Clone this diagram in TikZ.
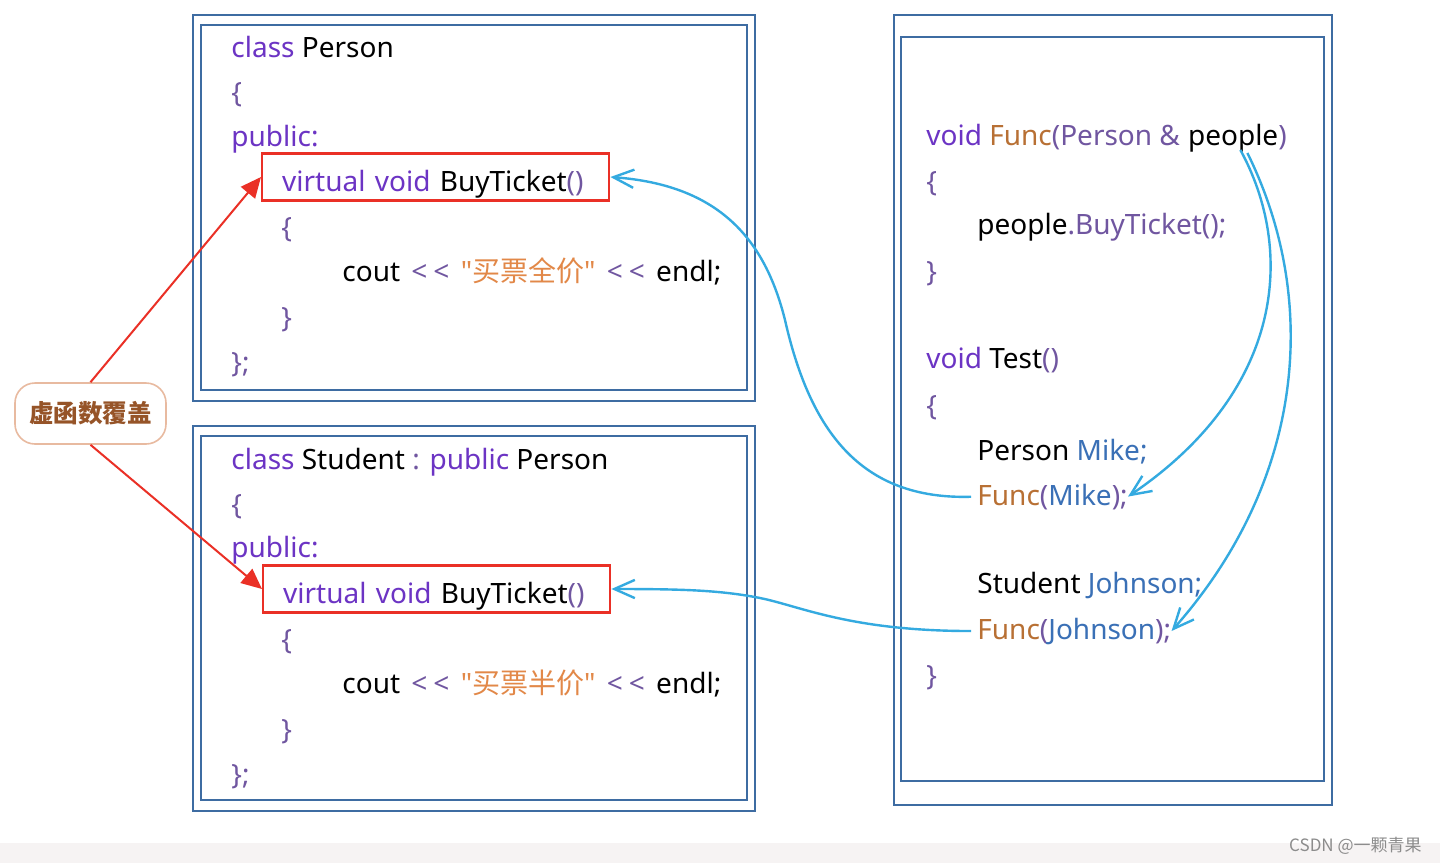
\documentclass[tikz,border=0pt]{standalone}
\usepackage{fontspec}
\setmainfont{Noto Sans}
\newfontfamily\cjk{Noto Sans CJK SC}
\usetikzlibrary{arrows.meta,positioning,calc}
\definecolor{kwd}{RGB}{108,52,196}
\definecolor{pun}{RGB}{112,86,160}
\definecolor{fnc}{RGB}{184,112,52}
\definecolor{strc}{RGB}{226,136,72}
\definecolor{varc}{RGB}{58,112,182}
\definecolor{frame}{RGB}{62,108,162}
\definecolor{redc}{RGB}{234,48,38}
\definecolor{bluec}{RGB}{52,170,224}
\definecolor{tagline}{RGB}{232,186,160}
\definecolor{tagtext}{RGB}{150,84,40}
\definecolor{strip}{RGB}{246,243,243}
\newcommand{\kw}[1]{\textcolor{kwd}{#1}}
\newcommand{\pun}[1]{\textcolor{pun}{#1}}
\newcommand{\cfn}[1]{\textcolor{fnc}{#1}}
\newcommand{\cstr}[1]{\textcolor{strc}{#1}}
\newcommand{\cvar}[1]{\textcolor{varc}{#1}}
\newcommand{\shl}{\hspace{2pt}\pun{<\hspace{3pt}<}\hspace{2pt}}

\begin{document}
\begin{tikzpicture}[x=0.5pt, y=-0.5pt,
  code/.style={anchor=base west, inner sep=0pt, font=\fontsize{14}{17}\selectfont},
  codebox/.style={code, draw=redc, line width=1.2pt, inner xsep=10pt, inner ysep=0pt,
    text width=153.5pt, text height=19pt, text depth=4.5pt},
  frm/.style={draw=frame, line width=1.1pt},
  tag/.style={draw=tagline, line width=0.8pt, rounded corners=10pt, minimum width=75.5pt,
    minimum height=30.5pt, text=tagtext, font=\cjk\bfseries\fontsize{12.3}{14}\selectfont},
  redarrow/.style={draw=redc, line width=1pt, -{Triangle[length=3.6mm, width=3.2mm]}},
  bluearrow/.style={draw=bluec, line width=1.2pt, -{Straight Barb[length=3.6mm, width=3.2mm]}}]
\useasboundingbox (0,0) rectangle (1440,863);
\fill[white] (0,0) rectangle (1440,863);
\fill[strip] (0,843) rectangle (1440,863);

\draw[frm] (193,15) rectangle (755,401);
\draw[frm] (201,25) rectangle (747,390);
\draw[frm] (193,426) rectangle (755,811);
\draw[frm] (201,436) rectangle (747,800);
\draw[frm] (894,15) rectangle (1332,805);
\draw[frm] (901,37) rectangle (1324,781);

\node[code] (p1) at (231,57) {\kw{class} Person};
\node[code] (p2) at (231,102) {\pun{\{}};
\node[code] (p3) at (231,146) {\kw{public:}};
\node[codebox] (pbuy) at (261,191.5) {\kw{virtual void} BuyTicket\pun{()}};
\node[code] (p5) at (281,237) {\pun{\{}};
\node[code] (p6) at (342,281) {cout \shl{} \cstr{\textquotedbl{\cjk 买票全价}\textquotedbl} \shl{} endl;};
\node[code] (p7) at (281,327) {\pun{\}}};
\node[code] (p8) at (231,372) {\pun{\};}};

\node[code] (s1) at (231,469) {\kw{class} Student \pun{:} \kw{public} Person};
\node[code] (s2) at (231,514) {\pun{\{}};
\node[code] (s3) at (231,557) {\kw{public:}};
\node[codebox] (sbuy) at (262,603.5) {\kw{virtual void} BuyTicket\pun{()}};
\node[code] (s5) at (281,649) {\pun{\{}};
\node[code] (s6) at (342,693) {cout \shl{} \cstr{\textquotedbl{\cjk 买票半价}\textquotedbl} \shl{} endl;};
\node[code] (s7) at (281,739) {\pun{\}}};
\node[code] (s8) at (231,784) {\pun{\};}};

\node[code] (sig) at (926,145) {\kw{void} \cfn{Func}\pun{(Person \&}};
\node[code] (ppl) at (sig.base east) {\ people\pun{)}};
\node[code] (f2) at (926,191) {\pun{\{}};
\node[code] (f3) at (977,234) {people\pun{.BuyTicket();}};
\node[code] (f4) at (926,281) {\pun{\}}};
\node[code] (f5) at (926,368) {\kw{void} Test\pun{()}};
\node[code] (f6) at (926,415) {\pun{\{}};
\node[code] (f7) at (977,460) {Person \cvar{Mike;}};
\node[code] (fm) at (977,505) {\cfn{Func}\pun{(}\cvar{Mike}\pun{);}};
\node[code] (f9) at (977,593) {Student \cvar{Johnson;}};
\node[code] (fj) at (977,639) {\cfn{Func}\pun{(}\cvar{Johnson}\pun{);}};
\node[code] (f11) at (926,685) {\pun{\}}};

\node[tag] (vhint) at (90.5,413.5) {虚函数覆盖};

\draw[redarrow] (vhint.north) -- (pbuy.west);
\draw[redarrow] (vhint.south) -- (sbuy.west);

\draw[bluearrow, shorten <=3pt] (fm.west) .. controls (860,500) and (810,430) .. (785,320)
  .. controls (765,240) and (720,185) .. (pbuy.east);
\draw[bluearrow, shorten <=3pt] (fj.west) .. controls (850,631) and (800,606) .. (760,598)
  .. controls (720,590) and (680,589) .. (sbuy.east);

\coordinate (pq1) at ($(ppl.base west)+(60,5)$);
\coordinate (pq2) at ($(ppl.base west)+(67,8)$);
\draw[bluearrow] (pq1) .. controls (1295,250) and (1285,390) .. (fm.east);
\draw[bluearrow] (pq2) .. controls (1320,300) and (1305,480) .. (fj.east);

\node[anchor=base east, inner sep=0pt, text=black!45, font=\cjk\fontsize{8.5}{10}\selectfont]
  (mark) at (1422,851) {CSDN @一颗青果};
\end{tikzpicture}
\end{document}
